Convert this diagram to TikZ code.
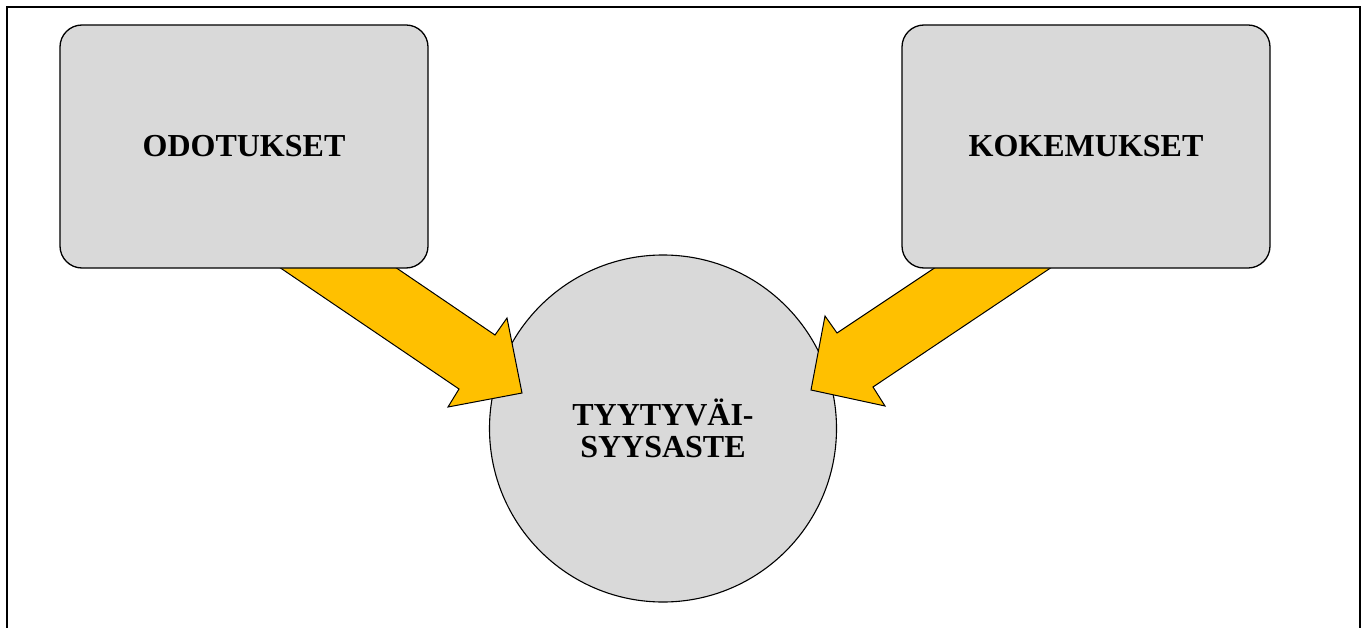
\documentclass[tikz,border=0pt]{standalone}
\usepackage{fontspec}
\setmainfont{Liberation Serif}
\definecolor{boxgray}{HTML}{D9D9D9}
\definecolor{flowgold}{HTML}{FFC000}
\begin{document}
\begin{tikzpicture}[x=1bp,y=-1bp,
  card/.style={draw=black, line width=1.3bp, fill=boxgray, rounded corners=22bp,
    minimum width=368bp, minimum height=243bp, inner sep=0pt,
    font=\fontsize{32bp}{32bp}\selectfont\bfseries},
  hub/.style={draw=black, line width=1.1bp, fill=boxgray, circle,
    minimum size=347bp, inner sep=0pt, align=center,
    font=\fontsize{32bp}{32bp}\selectfont\bfseries},
  blockarrow/.style={draw=black, line width=1bp, fill=flowgold, line join=miter}]
\useasboundingbox (0,0) rectangle (1365,628);
% outer frame, open at the bottom
\draw[line width=2.6bp] (7,628) -- (7,7) -- (1360,7) -- (1360,628);
% central circle
\node[hub] (level) at (663,428.5) {TYYTYVÄI-\\SYYSASTE};
% block arrows into the circle
\draw[blockarrow] (279,267) -- (395,267) -- (495,335) -- (507,318) -- (522,393)
  -- (448,407) -- (459,389) -- cycle;
\draw[blockarrow] (1052,267) -- (936,267) -- (837,333) -- (825,316) -- (811,390)
  -- (885,406) -- (873,387) -- cycle;
% the two source boxes
\node[card] (expect) at (244,146.5) {ODOTUKSET};
\node[card] (exper) at (1086,146.5) {KOKEMUKSET};
\end{tikzpicture}
\end{document}
